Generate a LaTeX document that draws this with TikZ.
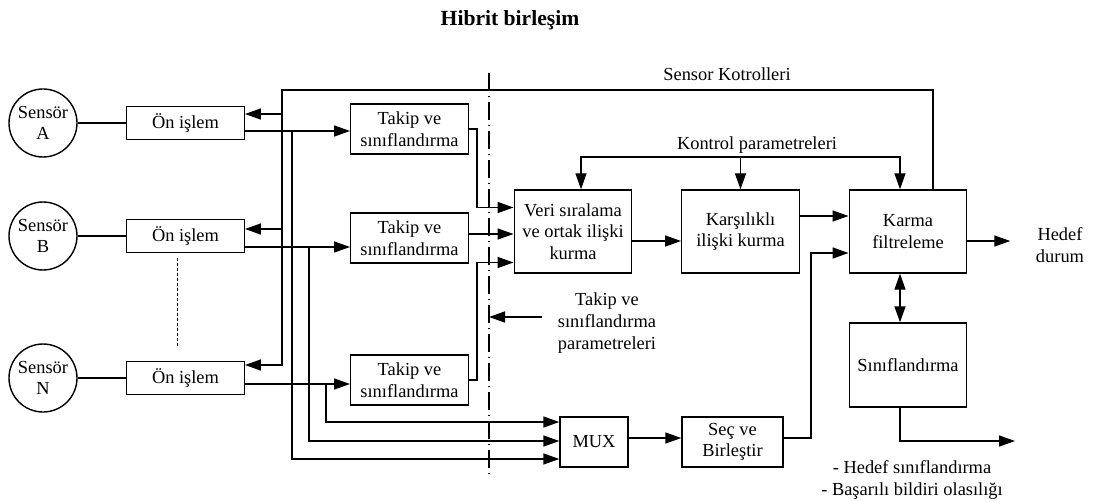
\documentclass[tikz,border=0pt]{standalone}
\usepackage{fontspec}
\setmainfont{Liberation Serif}
\usetikzlibrary{arrows.meta,calc}

\begin{document}
\begin{tikzpicture}[
x=0.5pt, y=-0.5pt,
line width=0.7pt,
font=\fontsize{9.2}{10.8}\selectfont,
box/.style ={draw, rectangle, align=center, inner sep=0pt, minimum width=58.75pt},
sensor/.style ={draw, circle, align=center, inner sep=0pt, minimum size=34pt},
lbl/.style ={align=center, inner sep=0pt},
arr/.style ={-{Triangle[length=8pt,width=5.5pt]}},
darr/.style ={{Triangle[length=8pt,width=5.5pt]}-{Triangle[length=8pt,width=5.5pt]}},
sepline/.style ={line width=0.6pt, dash pattern=on 9pt off 2.5pt on 0.5pt off 2.5pt}
]
\useasboundingbox (0,0) rectangle (1096,502);

\node[font=\fontsize{10.8}{12}\selectfont\bfseries] (title) at (510,20) {Hibrit birleşim};

\node[sensor] (sA) at (43,123) {Sensör\\A};
\node[sensor] (sB) at (43,236) {Sensör\\B};
\node[sensor] (sN) at (43,378) {Sensör\\N};

\node[box, minimum height=16.5pt] (onA) at (185.5,123) {Ön işlem};
\node[box, minimum height=16.5pt] (onB) at (185.5,236) {Ön işlem};
\node[box, minimum height=16.5pt] (onN) at (185.5,378) {Ön işlem};

\node[box, minimum height=25pt] (takA) at (409.5,129) {Takip ve\\sınıflandırma};
\node[box, minimum height=25pt] (takB) at (409.5,238) {Takip ve\\sınıflandırma};
\node[box, minimum height=25pt] (takN) at (409.5,380) {Takip ve\\sınıflandırma};

\node[box, minimum height=41.5pt] (veri) at (573,231.5) {Veri sıralama\\ve ortak ilişki\\kurma};
\node[box, minimum height=41.5pt] (kars) at (740.5,231.5) {Karşılıklı\\ilişki kurma};
\node[box, minimum height=41.5pt] (karma) at (908,231.5) {Karma\\filtreleme};
\node[box, minimum height=42pt] (sinif) at (908,365) {Sınıflandırma};
\node[box, minimum width=34pt, minimum height=25pt] (mux) at (594,442) {MUX};
\node[box, minimum width=50.5pt, minimum height=25pt] (sec) at (732.5,442) {Seç ve\\Birleştir};

\node[lbl] (sklbl) at (727,74) {Sensor Kotrolleri};
\node[lbl] (kplbl) at (757,145) {Kontrol parametreleri};
\node[lbl] (tsp) at (607,323) {Takip ve\\sınıflandırma\\parametreleri};
\node[lbl] (hedef) at (1060,245) {Hedef\\durum};
\node[lbl] (sonuc) at (912,480) {- Hedef sınıflandırma\\- Başarılı bildiri olasılığı};

\coordinate (dtop) at (489,73);
\coordinate (dbot) at (489,476);
\coordinate (fb) at (282,90);
\coordinate (ja) at (292,0);
\coordinate (jb) at (309,0);
\coordinate (jn) at (326,0);
\coordinate (jt) at (477,0);
\coordinate (js) at (811,0);
\coordinate (kp) at (0,157);
\coordinate (cout) at (1015,441);

\draw[sepline] (dtop) -- (dbot);
\draw[line width=0.5pt, dash pattern=on 1.5pt off 1pt] ([xshift=-4.25pt,yshift=-2.25pt]onB.south) -- ([xshift=-4.25pt,yshift=6.75pt]onN.north);

\draw (sA) -- (onA);
\draw (sB) -- (onB);
\draw (sN) -- (onN);

% sensor kontrol
\draw[arr] ([xshift=12.5pt]karma.north) |- (fb) -- ([yshift=6.5pt]onN.east -| fb) -- ([yshift=6.5pt]onN.east);
\draw[arr] ([yshift=4.5pt]onA.east -| fb) -- ([yshift=4.5pt]onA.east);
\draw[arr] ([yshift=3.5pt]onB.east -| fb) -- ([yshift=3.5pt]onB.east);

\draw[arr] ([yshift=-4pt]onA.east) -- ([yshift=-4pt]onA.east -| takA.west);
\draw[arr] ([yshift=-5.5pt]onB.east) -- ([yshift=-5.5pt]onB.east -| takB.west);
\draw[arr] ([yshift=-3pt]onN.east) -- ([yshift=-3pt]onN.east -| takN.west);
\draw[arr] ([yshift=-4pt]onA.east -| ja) |- ([yshift=-8.5pt]mux.west);
\draw[arr] ([yshift=-5.5pt]onB.east -| jb) |- ([yshift=0.5pt]mux.west);
\draw[arr] ([yshift=-3pt]onN.east -| jn) |- ([yshift=10pt]mux.west);

\draw[arr] (takA.east) -- (takA.east -| jt) |- ([yshift=12pt]veri.west);
\draw[arr] ([yshift=2pt]takB.east) -- ([yshift=2pt]takB.east -| veri.west);
\draw[arr] (takN.east) -- (takN.east -| jt) |- ([yshift=-15.5pt]veri.west);
\draw[arr] ([xshift=-7.5pt,yshift=3pt]tsp.west) -- ([yshift=3pt]tsp.west -| dtop);

\draw[darr] ([xshift=4pt]veri.north) |- (kars.north |- kp) -| ([xshift=-4pt]karma.north);
\draw[arr] (kars.north |- kp) -- (kars.north);

\draw[arr] ([yshift=-4.75pt]veri.east) -- ([yshift=-4.75pt]veri.east -| kars.west);
\draw[arr] ([yshift=7.75pt]kars.east) -- ([yshift=7.75pt]kars.east -| karma.west);
\draw[arr] ([yshift=2pt]mux.east) -- ([yshift=2pt]mux.east -| sec.west);
\draw[arr] ([yshift=2pt]sec.east) -- ([yshift=2pt]sec.east -| js) |- ([yshift=-10.75pt]karma.west);
\draw[arr] ([yshift=-4.75pt]karma.east) -- ([xshift=-12.5pt,yshift=-4.75pt]karma.east -| hedef.west);
\draw[darr] ([xshift=-4pt]karma.south) -- ([xshift=-4pt]sinif.north);
\draw[arr] ([xshift=-4pt]sinif.south) |- (cout);
\end{tikzpicture}
\end{document}
